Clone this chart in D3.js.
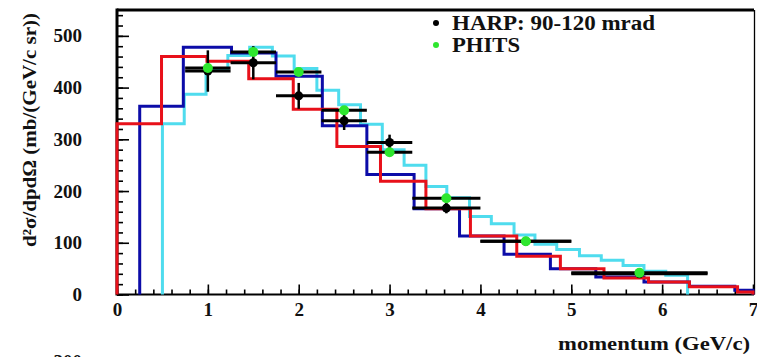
<!DOCTYPE html>
<html>
<head>
<meta charset="utf-8">
<script src="https://cdn.jsdelivr.net/npm/d3@7"></script>
<style>
  body { margin: 0; background: #fff; }
  svg text { font-family: "Liberation Serif", "Times New Roman", serif; font-weight: bold; fill: #111; }
</style>
</head>
<body>
<svg id="fig" width="757" height="357"></svg>
<script>
// histogrammes (bords des classes + contenus)
var rougeBords = [0, 0.49, 0.99, 1.45, 1.94, 2.42, 2.9, 3.4, 3.89, 4.4, 4.88, 5.36, 5.85, 6.3, 6.83, 7.0];
var rougeVals  = [330, 460, 451, 417, 358, 286, 219, 166, 113, 74, 50, 32, 24, 15, 5];

var bleuBords = [0.25, 0.73, 1.26, 1.75, 2.26, 2.75, 3.27, 3.77, 4.26, 4.77, 5.27, 5.8, 6.3, 6.8, 7.0];
var bleuVals  = [364, 478, 467, 422, 326, 232, 166, 113, 78, 50, 34, 24, 16, 8];

var cyanBords = [0.5, 0.74, 0.98, 1.22, 1.46, 1.71, 1.95, 2.2, 2.44, 2.68, 2.92, 3.16, 3.4, 3.63, 3.88, 4.12, 4.37, 4.6, 4.84, 5.09, 5.33, 5.57, 5.8, 6.04, 6.28];
var cyanVals  = [330, 387, 435, 462, 478, 461, 437, 395, 367, 329, 280, 250, 209, 187, 151, 137, 115, 97, 87, 75, 66, 56, 45, 37];

// points HARP et PHITS
var harpX   = [1.0, 1.5, 2.0, 2.5, 3.0, 3.625, 4.5, 5.75];
var harpBas = [0.75, 1.25, 1.75, 2.25, 2.75, 3.25, 4.0, 5.0];
var harpHaut = [1.25, 1.75, 2.25, 2.75, 3.25, 4.0, 5.0, 6.5];
var harpVals = [432, 448, 384, 336, 294, 167, 103, 40];
var harpErr  = [40, 32, 25, 18, 15, 10, 8, 6];
var phitsVals = [438, 469, 430, 356, 275, 186, 103, 42];

var xLabels = ["0", "1", "2", "3", "4", "5", "6", "7"];
var yLabels = ["0", "100", "200", "300", "400", "500"];

var marge = {haut: 10, droite: 4, bas: 62.5, gauche: 117};
var largeur = 757, hauteur = 357;
var svg = d3.select('#fig');

var xScale = d3.scaleLinear().domain([0, 7]).range([marge.gauche, largeur - marge.droite]);
var yScale = d3.scaleLinear().domain([0, 550]).range([hauteur - marge.bas, marge.haut]);

// graduations mineures
svg.append("g")
    .attr("transform", `translate(0,${hauteur - marge.bas})`)
    .call(d3.axisBottom(xScale).tickValues(xScale.ticks(35)).tickSize(-5).tickFormat(""))
    .call(g => g.select(".domain").remove());
svg.append("g")
    .attr("transform", `translate(${marge.gauche},0)`)
    .call(d3.axisLeft(yScale).tickValues(yScale.ticks(28)).tickSize(-6).tickFormat(""))
    .call(g => g.select(".domain").remove());

// graduations majeures + etiquettes
svg.append("g")
    .attr("transform", `translate(0,${hauteur - marge.bas})`)
    .call(d3.axisBottom(xScale).tickValues(xLabels.map(Number)).tickSize(-10).tickPadding(8)
        .tickFormat((d, i) => xLabels[i]))
    .call(g => g.select(".domain").remove())
    .call(g => g.selectAll("text").style("font-size", "19px").attr("fill", "#111"));
svg.append("g")
    .attr("transform", `translate(${marge.gauche},0)`)
    .call(d3.axisLeft(yScale).tickValues(yLabels.map(Number)).tickSize(-12).tickPadding(35)
        .tickFormat((d, i) => yLabels[i]))
    .call(g => g.select(".domain").remove())
    .call(g => g.selectAll("text").style("font-size", "19px").attr("fill", "#111"));
svg.selectAll(".tick line").attr("stroke", "#000").attr("stroke-width", 1.6);

// cadre
var x0 = xScale(0), x1 = xScale(7), y0 = yScale(0), y1 = yScale(550);
svg.append("line").attr("x1", x0).attr("x2", x1 + 1).attr("y1", y1).attr("y2", y1).attr("stroke", "#000").attr("stroke-width", 2.8);
svg.append("line").attr("x1", x0).attr("x2", x1 + 1).attr("y1", y0).attr("y2", y0).attr("stroke", "#000").attr("stroke-width", 2);
svg.append("line").attr("x1", x0).attr("x2", x0).attr("y1", y1 - 1.4).attr("y2", y0 + 1).attr("stroke", "#000").attr("stroke-width", 3);
svg.append("line").attr("x1", x1 + 1.5).attr("x2", x1 + 1.5).attr("y1", y1).attr("y2", y0).attr("stroke", "#000").attr("stroke-width", 1.3);

function marches(bords, vals) {
    var pts = [[bords[0], 0]];
    vals.forEach(function(v, i) {
        pts.push([bords[i], v]);
        pts.push([bords[i + 1], v]);
    });
    pts.push([bords[bords.length - 1], 0]);
    return d3.line().x(d => xScale(d[0])).y(d => yScale(d[1]))(pts);
}

svg.append("path").attr("d", marches(cyanBords, cyanVals))
    .attr("fill", "none").attr("stroke", "#4fdcee").attr("stroke-width", 3);
svg.append("path").attr("d", marches(bleuBords, bleuVals))
    .attr("fill", "none").attr("stroke", "#0c0ca8").attr("stroke-width", 3);
svg.append("path").attr("d", marches(rougeBords, rougeVals))
    .attr("fill", "none").attr("stroke", "#e8101a").attr("stroke-width", 3);

// HARP
var harp = harpX.map((d, i) => ({x: d, lo: harpBas[i], hi: harpHaut[i], v: harpVals[i], e: harpErr[i], p: phitsVals[i]}));

svg.selectAll(".barreH").data(harp).enter().append("line")
    .attr("x1", d => xScale(d.lo)).attr("x2", d => xScale(d.hi))
    .attr("y1", d => yScale(d.v)).attr("y2", d => yScale(d.v))
    .attr("stroke", "#000").attr("stroke-width", 3);
svg.selectAll(".barreV").data(harp).enter().append("line")
    .attr("x1", d => xScale(d.x)).attr("x2", d => xScale(d.x))
    .attr("y1", d => yScale(d.v - d.e)).attr("y2", d => yScale(d.v + d.e))
    .attr("stroke", "#000").attr("stroke-width", 2.5);
svg.selectAll(".ptHarp").data(harp).enter().append("circle")
    .attr("cx", d => xScale(d.x)).attr("cy", d => yScale(d.v)).attr("r", 4.5)
    .attr("fill", "#000");

// PHITS
svg.selectAll(".barreP").data(harp).enter().append("line")
    .attr("x1", d => xScale(d.lo)).attr("x2", d => xScale(d.hi))
    .attr("y1", d => yScale(d.p)).attr("y2", d => yScale(d.p))
    .attr("stroke", "#000").attr("stroke-width", 3);
svg.selectAll(".ptPhits").data(harp).enter().append("circle")
    .attr("cx", d => xScale(d.x)).attr("cy", d => yScale(d.p)).attr("r", 5)
    .attr("fill", "#2ee62e");

// legende
svg.append("circle").attr("cx", 436).attr("cy", 23).attr("r", 3).attr("fill", "#000");
svg.append("text").attr("x", 452).attr("y", 30).style("font-size", "20px")
    .attr("textLength", 203).attr("lengthAdjust", "spacingAndGlyphs")
    .text("HARP: 90-120 mrad");
svg.append("circle").attr("cx", 436).attr("cy", 45).attr("r", 3).attr("fill", "#2ee62e");
svg.append("text").attr("x", 452).attr("y", 52).style("font-size", "20px")
    .attr("textLength", 68).attr("lengthAdjust", "spacingAndGlyphs")
    .text("PHITS");

// titres des axes
svg.append("text")
    .attr("transform", `translate(750, 350)`)
    .style("text-anchor", "end").style("font-size", "19px")
    .attr("textLength", 192).attr("lengthAdjust", "spacingAndGlyphs")
    .text("momentum (GeV/c)");
svg.append("text")
    .attr("transform", `translate(36, 130) rotate(-90)`)
    .style("text-anchor", "middle").style("font-size", "19px")
    .attr("textLength", 234).attr("lengthAdjust", "spacingAndGlyphs")
    .text("d\u00b2\u03c3/dpd\u03a9 (mb/(GeV/c sr))");

// morceau du panneau suivant (coupe par le bord, comme sur l'original)
svg.append("text").attr("x", 82).attr("y", 368).style("text-anchor", "end").style("font-size", "19px").text("300");
</script>
</body>
</html>
